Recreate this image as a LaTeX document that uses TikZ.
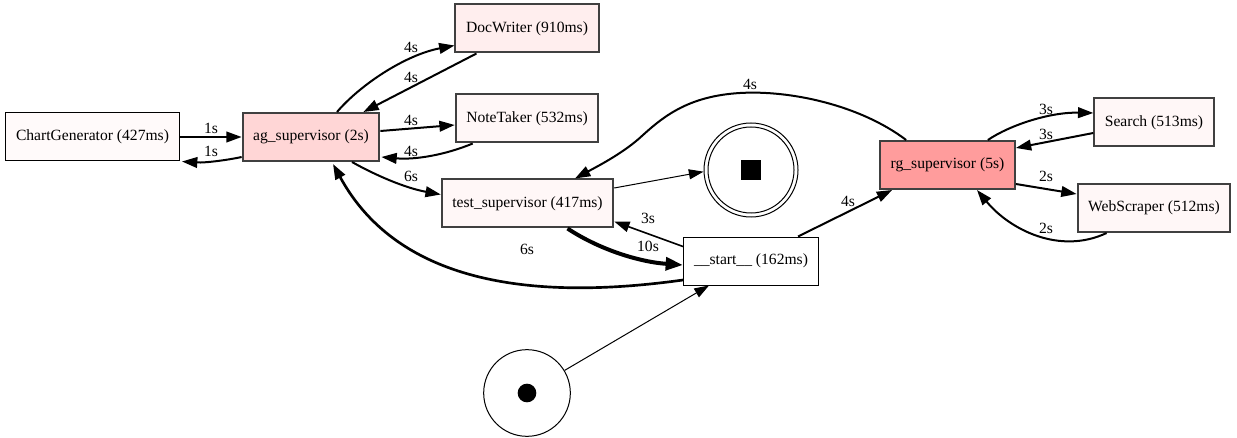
\documentclass[tikz,border=0pt]{standalone}
\usepackage{fontspec}
\setmainfont{Liberation Serif}
\usetikzlibrary{calc,arrows.meta}
\definecolor{myBorder}{RGB}{64,64,64}
\definecolor{agFill}{RGB}{255,214,214}
\definecolor{rgFill}{RGB}{255,156,156}
\definecolor{dwFill}{RGB}{255,238,238}
\definecolor{ltFill}{RGB}{255,247,247}
\definecolor{cgFill}{RGB}{255,250,250}
\tikzset{
myBox/.style={
	rectangle,draw=black,fill=white,line width=0.75pt,
	inner xsep=7.9pt,inner ysep=0pt,minimum height=36pt
}
, myAgent/.style={
	myBox,draw=myBorder,line width=1.5pt
}
, myInit/.style={
	circle,draw,line width=0.75pt,minimum size=65pt,inner sep=0pt,
	path picture = {
		\fill (path picture bounding box.center) circle (7pt);
	}
}
, myFinal/.style={
	circle,draw,line width=0.75pt,minimum size=70.5pt,inner sep=0pt,
	path picture = {
		\draw[line width=0.75pt] (path picture bounding box.center) circle (32.25pt);
		\fill ($(path picture bounding box.center)+(-7.5pt,-7.5pt)$) rectangle +(15pt,15pt);
	}
}
, myLabel/.style={inner sep=0pt}
% links
, myEdge/.style={-{Triangle[length=11.5pt,width=8pt]},line width=1.5pt}
, myThin/.style={-{Triangle[length=11pt,width=7.5pt]},line width=0.75pt}
, myHeavy/.style={-{Triangle[length=13pt,width=9.5pt]},line width=3pt}
}

\begin{document}
\begin{tikzpicture}[x=0.75pt,y=-0.75pt,font=\fontsize{11.7}{14}\selectfont]
	\useasboundingbox (0,0) rectangle (1237,438);
	% nodes
	\node[myBox,fill=cgFill] (cg) at (92.5,137) {ChartGenerator (427ms)};
	\node[myAgent,fill=agFill] (ag) at (311,137) {ag\_supervisor (2s)};
	\node[myAgent,fill=dwFill] (dw) at (527,28.5) {DocWriter (910ms)};
	\node[myAgent,fill=ltFill] (nt) at (527,118.5) {NoteTaker (532ms)};
	\node[myAgent,fill=ltFill] (ts) at (527.5,203.5) {test\_supervisor (417ms)};
	\node[myBox] (st) at (751,261) {\_\_start\_\_ (162ms)};
	\node[myAgent,fill=rgFill] (rg) at (947.5,165) {rg\_supervisor (5s)};
	\node[myAgent,fill=ltFill] (se) at (1154,122.5) {Search (513ms)};
	\node[myAgent,fill=ltFill] (ws) at (1154,208) {WebScraper (512ms)};
	% start and end
	\node[myInit] (init) at (527,393) {};
	\node[myFinal] (final) at (751,170) {};

	% links
	\draw[myEdge] (cg.east) -- (ag.west);
	\draw[myEdge] ($(ag.west)+(0,20)$) .. controls (228,160) and (205,163) .. ($(cg.south east)+(2,0)$);
	\draw[myEdge] ($(ag.north)+(26,0)$) .. controls (360,85) and (405,55) .. ($(dw.west)+(0,17)$);
	\draw[myEdge] ($(dw.south west)+(22,0)$) -- ($(ag.north east)+(-17,0)$);
	\draw[myEdge] ($(ag.east)+(0,-6)$) -- ($(nt.west)+(0,6.5)$);
	\draw[myEdge] ($(nt.south west)+(18,0)$) .. controls (445,155) and (415,160) .. ($(ag.east)+(1,20)$);
	\draw[myEdge] ($(ag.south)+(41,0)$) .. controls (375,175) and (405,188) .. ($(ts.west)+(0,-9)$);
	\draw[myEdge,line width=2pt] ($(st.west)+(0,19)$) .. controls (540,300) and (400,287) .. ($(ag.south)+(22,2)$);
	\draw[myThin] ($(ts.east)+(0,-15.5)$) -- (final.182);
	\draw[myEdge] ($(rg.north west)+(27,0)$) .. controls (860,105) and (790,90) .. (740,93)
		.. controls (690,96) and (665,115) .. (643,135)
		.. controls (625,152) and (600,165) .. ($(ts.north)+(47.5,0)$);
	\draw[myEdge,line width=1.2pt] ($(st.north west)+(0,10)$) -- ($(ts.south east)+(0,-7)$);
	\draw[myHeavy] ($(ts.south)+(40,0)$) .. controls (600,250) and (640,262) .. ($(st.west)+(0,4)$);
	\draw[myThin] (init.31) -- ($(st.south west)+(26,0)$);
	\draw[myEdge] ($(st.north east)+(-21,0)$) -- ($(rg.south west)+(13,0)$);
	\draw[myEdge] ($(rg.north east)+(-28,0)$) .. controls (1010,125) and (1050,112) .. ($(se.west)+(0,-9.5)$);
	\draw[myEdge] ($(se.west)+(0,10.5)$) -- ($(rg.north east)+(0,8)$);
	\draw[myEdge] ($(rg.south east)+(0,-6)$) -- ($(ws.west)+(0,-14)$);
	\draw[myEdge] ($(ws.south west)+(30,0)$) .. controls (1060,255) and (1010,230) .. ($(rg.south)+(29.5,0)$);

	% labels
	\node[myLabel] (l1) at (211,128) {1s};
	\node[myLabel] (l2) at (211,151) {1s};
	\node[myLabel] (l3) at (411,47) {4s};
	\node[myLabel] (l4) at (411,77) {4s};
	\node[myLabel] (l5) at (411,120) {4s};
	\node[myLabel] (l6) at (411,151) {4s};
	\node[myLabel] (l7) at (411,176) {6s};
	\node[myLabel] (l8) at (527,249) {6s};
	\node[myLabel] (l9) at (750,84) {4s};
	\node[myLabel] (l10) at (648,218) {3s};
	\node[myLabel] (l11) at (648,246) {10s};
	\node[myLabel] (l12) at (848,201) {4s};
	\node[myLabel] (l13) at (1046,109) {3s};
	\node[myLabel] (l14) at (1046,134) {3s};
	\node[myLabel] (l15) at (1046,176) {2s};
	\node[myLabel] (l16) at (1046,228) {2s};
\end{tikzpicture}
\end{document}
